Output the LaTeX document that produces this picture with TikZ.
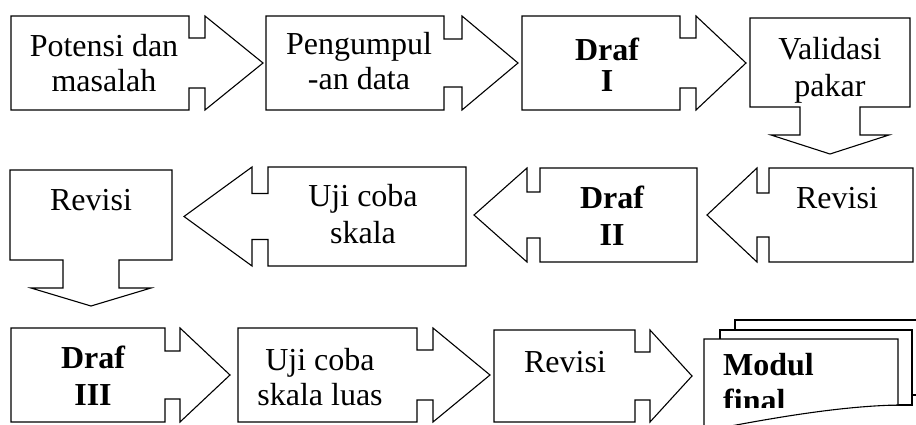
\documentclass[tikz,border=0pt]{standalone}
\usepackage{fontspec}
\setmainfont{Liberation Serif}
\usetikzlibrary{calc}
\tikzset{
  outl/.style={draw=black, line width=1.1pt, fill=white, line join=miter},
  boxn/.style={inner sep=0pt, outer sep=0pt},
  txt/.style={font=\fontsize{32}{36}\selectfont, align=center, anchor=base, inner sep=0pt},
  txtb/.style={font=\fontsize{32}{36}\selectfont\bfseries, align=center, anchor=base, inner sep=0pt},
}
% right callout: node, shaft half, neck, head length
\newcommand{\callR}[4]{\draw[outl] (#1.north west) -- (#1.north east) -- ($(#1.east)+(0,-#2)$) -- ++(#3,0) -- ($(#1.north east)+(#3,0)$) -- ($(#1.east)+(#3+#4,0)$) -- ($(#1.south east)+(#3,0)$) -- ($(#1.east)+(#3,#2)$) -- ++(-#3,0) -- (#1.south east) -- (#1.south west) -- cycle;}
% left callout
\newcommand{\callL}[4]{\draw[outl] (#1.north east) -- (#1.north west) -- ($(#1.west)+(0,-#2)$) -- ++(-#3,0) -- ($(#1.north west)+(-#3,0)$) -- ($(#1.west)+(-#3-#4,0)$) -- ($(#1.south west)+(-#3,0)$) -- ($(#1.west)+(-#3,#2)$) -- ++(#3,0) -- (#1.south west) -- (#1.south east) -- cycle;}
% down callout: node, shaft half, neck, head half, head length
\newcommand{\callD}[5]{\draw[outl] (#1.north west) -- (#1.north east) -- (#1.south east) -- ($(#1.south)+(#2,0)$) -- ++(0,#3) -- ++(#4-#2,0) -- ($(#1.south)+(0,#3+#5)$) -- ($(#1.south)+(-#4,#3)$) -- ++(#4-#2,0) -- ++(0,-#3) -- (#1.south west) -- cycle;}
\begin{document}
\begin{tikzpicture}[x=1pt,y=-1pt]
\useasboundingbox (0,0) rectangle (916,425);
\clip (0,0) rectangle (916,425);
\fill[white] (0,0) rectangle (916,425);
% box nodes
\node[boxn, minimum width=178pt, minimum height=94pt] (b1) at (100,63) {};
\node[boxn, minimum width=178pt, minimum height=94pt] (b2) at (355,63) {};
\node[boxn, minimum width=158pt, minimum height=94pt] (b3) at (601,63) {};
\node[boxn, minimum width=160pt, minimum height=89pt] (b4) at (830,62.5) {};
\node[boxn, minimum width=144pt, minimum height=94pt] (b5) at (841,215) {};
\node[boxn, minimum width=157pt, minimum height=94pt] (b6) at (618.5,215) {};
\node[boxn, minimum width=198pt, minimum height=99pt] (b7) at (367,216.5) {};
\node[boxn, minimum width=162pt, minimum height=90pt] (b8) at (91,215) {};
\node[boxn, minimum width=154pt, minimum height=94pt] (b9) at (88,375) {};
\node[boxn, minimum width=179pt, minimum height=94pt] (b10) at (327.5,375) {};
\node[boxn, minimum width=141pt, minimum height=92pt] (b11) at (564.5,376) {};
% shapes
\callR{b1}{25}{16}{58}
\callR{b2}{24}{18}{56}
\callR{b3}{25}{16}{50}
\callD{b4}{30}{28}{59}{19}
\callL{b5}{22}{12}{50}
\callL{b6}{23}{13}{53}
\callL{b7}{23}{16}{68}
\callD{b8}{28}{28}{60}{18}
\callR{b9}{24}{15}{50}
\callR{b10}{25}{16}{57}
\callR{b11}{24}{15}{42}
% multidocument
\draw[outl] (735,320) rectangle (940,395);
\draw[outl] (720,330) rectangle (912,405);
\draw[outl] (704,339) -- (898,339) -- (898,405) .. controls (850,406) and (790,414) .. (700,432) -- (700,450) -- (704,450) -- cycle;
% texts (position = baseline of last line)
\node[txt] (t1) at (104,92) {Potensi dan\\[-1pt]masalah};
\node[txt] (t2) at (359,90) {Pengumpul\\[-1pt]-an data};
\node[txtb] (t3) at (607,92) {Draf\\[-5pt]I};
\node[txt] (t4) at (830,97) {Validasi\\[1pt]pakar};
\node[txt] (t5) at (837,208) {Revisi};
\node[txtb] (t6) at (612,245) {Draf\\[1pt]II};
\node[txt] (t7) at (363,243) {Uji coba\\skala};
\node[txt] (t8) at (91,210) {Revisi};
\node[txtb] (t9) at (93,405) {Draf\\[1pt]III};
\node[txt] (t10) at (320,405) {Uji coba\\[-1pt]skala luas};
\node[txt] (t11) at (565,372) {Revisi};
\begin{scope}
\clip (700,330) rectangle (900,407);
\node[txtb, align=left, anchor=base west] (t12) at (723,411) {Modul\\final};
\end{scope}
\end{tikzpicture}
\end{document}
